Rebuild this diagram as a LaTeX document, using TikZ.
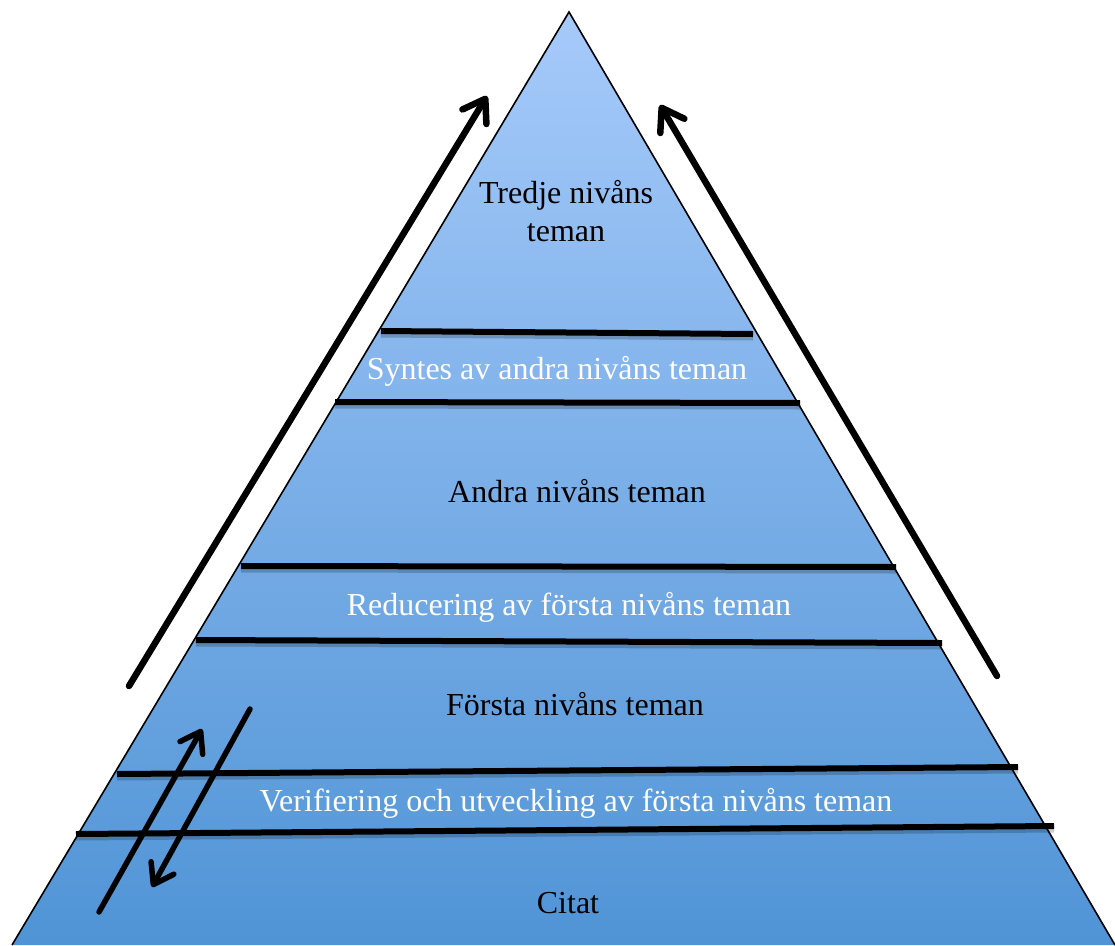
\documentclass[tikz,border=0pt]{standalone}
\usepackage{fontspec}
\setmainfont{Liberation Serif}
\usetikzlibrary{arrows.meta}
\definecolor{pyrtop}{RGB}{166,202,250}
\definecolor{pyrbot}{RGB}{80,148,214}
\begin{document}
\begin{tikzpicture}[x=1pt,y=-1pt,
  level/.style={line width=6pt, black,
    preaction={draw, black, opacity=0.2, line width=7pt, transform canvas={yshift=-3pt}}},
  bigarrow/.style={line width=6.5pt, line cap=round,
    -{Straight Barb[length=21pt,width=28pt,round]}},
  smallarrow/.style={line width=5.5pt, line cap=round,
    -{Straight Barb[length=19pt,width=26pt,round]}},
  lbl/.style={anchor=base, inner sep=0pt, font=\fontsize{32}{38}\selectfont},
  dark/.style={lbl, text=black},
  light/.style={lbl, text=white}]
\useasboundingbox (0,0) rectangle (1115,945);
% pyramid
\coordinate (apex) at (569,12);
\coordinate (bl) at (12,945);
\coordinate (br) at (1115,945);
\shade[top color=pyrtop, bottom color=pyrbot] (apex) -- (bl) -- (br) -- cycle;
\draw[line width=1.6pt] (bl) -- (apex) -- (br);
% level lines
\coordinate (l1a) at (381,331); \coordinate (l1b) at (753,334);
\coordinate (l2a) at (335,402); \coordinate (l2b) at (800,403);
\coordinate (l3a) at (241,566); \coordinate (l3b) at (896,567);
\coordinate (l4a) at (196,640); \coordinate (l4b) at (942,643);
\coordinate (l5a) at (117,774); \coordinate (l5b) at (1018,767);
\coordinate (l6a) at (76,834);  \coordinate (l6b) at (1054,826);
\draw[level] (l1a) -- (l1b);
\draw[level] (l2a) -- (l2b);
\draw[level] (l3a) -- (l3b);
\draw[level] (l4a) -- (l4b);
\draw[level] (l5a) -- (l5b);
\draw[level] (l6a) -- (l6b);
% labels
\node[dark]  (t3a) at (566,203) {Tredje nivåns};
\node[dark]  (t3b) at (566,241) {teman};
\node[light] (syn) at (557,379) {Syntes av andra nivåns teman};
\node[dark]  (t2)  at (577,502) {Andra nivåns teman};
\node[light] (red) at (569,615) {Reducering av första nivåns teman};
\node[dark]  (t1)  at (575,715) {Första nivåns teman};
\node[light] (ver) at (576,811) {Verifiering och utveckling av första nivåns teman};
\node[dark]  (cit) at (568,913) {Citat};
% big arrows
\coordinate (la0) at (129,686); \coordinate (la1) at (487,96);
\coordinate (ra0) at (997,676); \coordinate (ra1) at (660,105);
\draw[bigarrow] (la0) -- (la1);
\draw[bigarrow] (ra0) -- (ra1);
% small arrows
\coordinate (su0) at (99,912);  \coordinate (su1) at (202,729);
\coordinate (sd0) at (250,709); \coordinate (sd1) at (152,887);
\draw[smallarrow] (su0) -- (su1);
\draw[smallarrow] (sd0) -- (sd1);
\end{tikzpicture}
\end{document}
